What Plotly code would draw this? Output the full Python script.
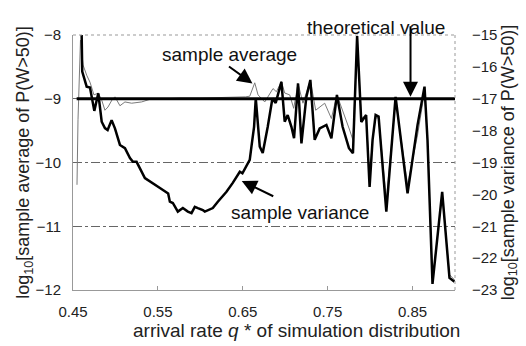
import plotly.graph_objects as go

# sample variance (right axis, log10 units)
var_q = [0.4602, 0.4609, 0.4661, 0.4700, 0.4751, 0.4798, 0.4838, 0.4876, 0.4908, 0.4955,
         0.4994, 0.5053, 0.5112, 0.5171, 0.5206, 0.5249, 0.5347, 0.5426, 0.5524, 0.5621,
         0.5641, 0.5676, 0.5735, 0.5794, 0.5853, 0.5896, 0.5935, 0.5971, 0.6029, 0.6053,
         0.6147, 0.6206, 0.6308, 0.6382, 0.6426, 0.6465, 0.6496, 0.6544, 0.6582, 0.6602,
         0.6633, 0.6653, 0.6700, 0.6735, 0.6794, 0.6849, 0.6888, 0.6955, 0.6994, 0.7029,
         0.7073, 0.7104, 0.7151, 0.7191, 0.7249, 0.7296, 0.7347, 0.7406, 0.7485, 0.7544,
         0.7609, 0.7676, 0.7751, 0.7798, 0.7847, 0.7896, 0.7953, 0.7994, 0.8029, 0.8065,
         0.8100, 0.8191, 0.8300, 0.8441, 0.8559, 0.8641, 0.8676, 0.8735, 0.8849, 0.8935,
         0.8994]
var_v = [-15.0, -16.15, -16.62, -16.65, -17.38, -16.83, -17.72, -17.92, -17.98, -17.67,
         -17.93, -18.45, -18.55, -18.86, -18.98, -18.98, -19.49, -19.64, -19.80, -19.97,
         -20.23, -20.27, -20.54, -20.43, -20.54, -20.59, -20.39, -20.43, -20.49, -20.54,
         -20.43, -20.23, -19.92, -19.64, -19.45, -19.29, -19.34, -19.08, -18.92, -18.50,
         -17.88, -16.99, -18.50, -18.70, -17.88, -16.99, -17.13, -16.47, -17.72, -17.51,
         -17.88, -18.24, -16.52, -18.40, -16.94, -16.41, -18.29, -17.93, -17.82, -18.24,
         -16.88, -17.88, -18.55, -18.71, -15.03, -17.73, -17.51, -19.77, -18.29, -17.51,
         -17.56, -20.54, -16.94, -19.97, -17.82, -16.62, -18.29, -22.81, -19.92, -22.62,
         -22.74]

# sample average (left axis, log10 units)
avg_q = [0.4547, 0.4559, 0.4588, 0.4618, 0.4661, 0.4700, 0.4747, 0.4798, 0.4838, 0.4876,
         0.4912, 0.4959, 0.4994, 0.5053, 0.5112, 0.5191, 0.5308, 0.5426, 0.5582, 0.5759,
         0.5994, 0.6229, 0.6441, 0.6535, 0.6582, 0.6641, 0.6680, 0.6759, 0.6856, 0.6896,
         0.6955, 0.6994, 0.7053, 0.7100, 0.7151, 0.7209, 0.7296, 0.7359, 0.7465, 0.7544,
         0.7609, 0.7720, 0.7759, 0.7798, 0.7847, 0.7896, 0.7953, 0.7994, 0.8029, 0.8065,
         0.8100, 0.8191, 0.8300, 0.8441, 0.8559, 0.8641, 0.8676, 0.8735, 0.8849, 0.8935,
         0.8994]
avg_v = [-10.35, -9.33, -8.08, -8.47, -8.63, -8.74, -8.94, -8.91, -9.02, -9.18,
         -9.13, -9.02, -8.97, -9.11, -9.05, -9.07, -9.05, -9.00, -9.00, -8.99,
         -8.99, -8.98, -8.98, -8.97, -8.96, -8.75, -8.94, -9.05, -8.84, -8.89,
         -8.73, -8.91, -8.94, -9.15, -8.76, -9.07, -8.71, -9.18, -9.07, -9.31,
         -8.94, -9.33, -9.49, -9.65, -8.08, -9.30, -9.27, -10.20, -9.65, -9.30,
         -9.30, -10.59, -9.02, -10.35, -9.57, -8.89, -9.65, -11.84, -10.51, -11.76,
         -11.84]

theory_q = [0.4543, 0.9]
theory_v = [-9.0, -9.0]

x_ticks = [0.45, 0.55, 0.65, 0.75, 0.85]
left_ticks = [-8, -9, -10, -11, -12]
right_ticks = [-15, -16, -17, -18, -19, -20, -21, -22, -23]

FONT = "Liberation Sans, Arial, sans-serif"

fig = go.Figure()
fig.add_trace(go.Scatter(x=avg_q, y=avg_v, mode="lines",
                         line=dict(color="#7a7a7a", width=1), yaxis="y", showlegend=False))
fig.add_trace(go.Scatter(x=theory_q, y=theory_v, mode="lines",
                         line=dict(color="black", width=3), yaxis="y", showlegend=False))
fig.add_trace(go.Scatter(x=var_q, y=var_v, mode="lines",
                         line=dict(color="black", width=2.5), yaxis="y2", showlegend=False))

fig.update_layout(
    width=526, height=346,
    margin=dict(l=73, r=71, t=35, b=56),
    paper_bgcolor="white", plot_bgcolor="white",
    font=dict(family=FONT, size=15, color="#222"),
    xaxis=dict(range=[0.45, 0.9], tickvals=x_ticks, ticktext=[f"{v:.2f}" for v in x_ticks],
               showline=True, linecolor="#999", linewidth=1,
               ticks="inside", ticklen=4, tickcolor="#999", showgrid=False, zeroline=False,
               tickfont=dict(size=15), ticklabelstandoff=8),
    yaxis=dict(range=[-12, -8], tickvals=left_ticks, showline=True, linecolor="#999",
               ticks="", showgrid=True, gridcolor="#666", griddash="dashdot", gridwidth=1,
               zeroline=False, tickfont=dict(size=15), ticklabelstandoff=8,
               title=dict(text="log<sub>10</sub>[sample average of P(W>50)]",
                          font=dict(size=18), standoff=0)),
    yaxis2=dict(range=[-23, -15], tickvals=right_ticks, overlaying="y", side="right",
                showline=False, ticks="", showgrid=False, zeroline=False,
                tickfont=dict(size=15), ticklabelstandoff=16,
                title=dict(text="log<sub>10</sub>[sample variance of P(W>50)]",
                           font=dict(size=18), standoff=4)),
)

# dotted top and right frame
fig.add_shape(type="line", xref="paper", yref="paper", x0=0, x1=1, y0=1, y1=1,
              line=dict(color="#999", width=1, dash="dot"))
fig.add_shape(type="line", xref="paper", yref="paper", x0=1, x1=1, y0=0, y1=1,
              line=dict(color="#999", width=1, dash="dot"))

# x-axis title (shifted right as in the reference)
fig.add_annotation(x=0.586, y=-0.157, xref="paper", yref="paper", yanchor="middle",
                   text="arrival rate <i>q</i> * of simulation distribution",
                   showarrow=False, font=dict(family=FONT, size=19, color="#222"))

ann_font = dict(family=FONT, size=19, color="#111")
arrow = dict(showarrow=True, arrowhead=2, arrowsize=1.5, arrowwidth=2, arrowcolor="black", text="")
fig.add_annotation(x=0.6347, y=-8.31, xref="x", yref="y", text="sample average",
                   showarrow=False, font=ann_font)
fig.add_annotation(x=0.6614, y=-8.76, xref="x", yref="y", ax=-25, ay=-18, **arrow)
fig.add_annotation(x=0.8065, y=1.078, xref="x", yref="paper", text="theoretical value",
                   showarrow=False, font=ann_font)
fig.add_annotation(x=0.8476, y=-8.97, xref="x", yref="y", ax=0, ay=-72, **arrow)
fig.add_annotation(x=0.7171, y=-10.78, xref="x", yref="y", text="sample variance",
                   showarrow=False, font=ann_font)
fig.add_annotation(x=0.6488, y=-10.29, xref="x", yref="y", ax=33, ay=16, **arrow)

fig.write_html("out.html")
